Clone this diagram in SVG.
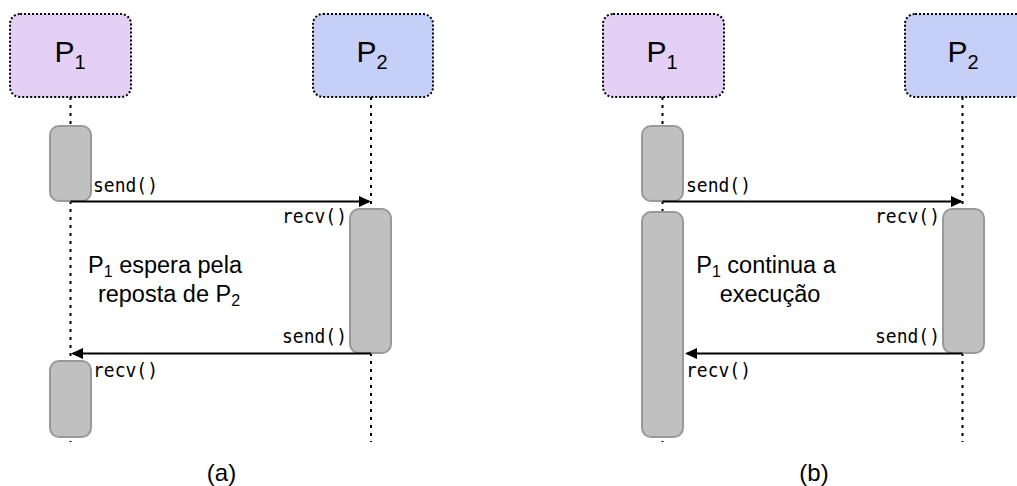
<svg xmlns="http://www.w3.org/2000/svg" width="1017" height="486" viewBox="0 0 1017 486">
  <style>
    .proc { stroke: #000; stroke-width: 2; stroke-dasharray: 2 2; }
    .p1 { fill: #e4d0f5; }
    .p2 { fill: #c6cff7; }
    .life { stroke: #000; stroke-width: 2; stroke-dasharray: 3 5; fill: none; }
    .act { fill: #c0c0c0; stroke: #999; stroke-width: 2; }
    .msg { stroke: #000; stroke-width: 2; fill: none; marker-end: url(#head); }
    .name { font-family: "Liberation Sans", Arial, sans-serif; font-size: 30px; fill: #000; text-anchor: middle; }
    .note { font-family: "Liberation Sans", Arial, sans-serif; font-size: 23.5px; fill: #000; text-anchor: middle; }
    .cap { font-family: "Liberation Sans", Arial, sans-serif; font-size: 24px; fill: #000; text-anchor: middle; }
    .call { font-family: "DejaVu Sans Mono", monospace; font-size: 20px; fill: #000; }
    .end { text-anchor: end; }
    .sub { font-size: 16px; }
    .subbig { font-size: 20px; }
  </style>
  <defs>
    <marker id="head" markerUnits="userSpaceOnUse" markerWidth="12" markerHeight="12" refX="10" refY="5.5" orient="auto">
      <path d="M0,0 L12,5.5 L0,11 Z" fill="#000"/>
    </marker>
  </defs>

  <!-- lifelines -->
  <g id="lifelines">
    <line class="life" x1="70.5" y1="97" x2="70.5" y2="442"/>
    <line class="life" x1="371" y1="97" x2="371" y2="442"/>
    <line class="life" x1="662.5" y1="97" x2="662.5" y2="442"/>
    <line class="life" x1="962.5" y1="97" x2="962.5" y2="442"/>
  </g>

  <!-- (a) blocking -->
  <g id="a-p1"><rect class="proc p1" x="10" y="14" width="121" height="83" rx="10"/>
    <text class="name" x="70" y="62">P<tspan class="subbig" dy="7">1</tspan></text></g>
  <g id="a-p2"><rect class="proc p2" x="313" y="14" width="120" height="83" rx="10"/>
    <text class="name" x="372" y="62">P<tspan class="subbig" dy="7">2</tspan></text></g>
  <g id="a-p1-act1"><rect class="act" x="50" y="126" width="41" height="75" rx="9"/></g>
  <g id="a-p2-act"><rect class="act" x="350" y="209" width="41" height="144" rx="9"/></g>
  <g id="a-p1-act2"><rect class="act" x="50" y="361" width="41" height="76" rx="9"/></g>

  <!-- (b) non-blocking -->
  <g id="b-p1"><rect class="proc p1" x="603" y="14" width="121" height="83" rx="10"/>
    <text class="name" x="662" y="62">P<tspan class="subbig" dy="7">1</tspan></text></g>
  <g id="b-p2"><rect class="proc p2" x="905" y="14" width="121" height="83" rx="10"/>
    <text class="name" x="963" y="62">P<tspan class="subbig" dy="7">2</tspan></text></g>
  <g id="b-p1-act1"><rect class="act" x="642" y="126" width="41" height="75" rx="9"/></g>
  <g id="b-p1-act2"><rect class="act" x="642" y="212" width="41" height="225" rx="9"/></g>
  <g id="b-p2-act"><rect class="act" x="943" y="209" width="41" height="144" rx="9"/></g>

  <!-- messages -->
  <g id="messages">
    <line class="msg" x1="70.5" y1="201.5" x2="369" y2="201.5"/>
    <line class="msg" x1="371" y1="353.5" x2="73" y2="353.5"/>
    <line class="msg" x1="662.5" y1="201.5" x2="961" y2="201.5"/>
    <line class="msg" x1="962.5" y1="353.5" x2="687" y2="353.5"/>
  </g>

  <!-- call labels (narrowed to the label width) -->
  <g id="calls">
    <text class="call" x="93" y="192" textLength="65" lengthAdjust="spacingAndGlyphs">send()</text>
    <text class="call" x="282" y="223" textLength="65" lengthAdjust="spacingAndGlyphs">recv()</text>
    <text class="call" x="282" y="343" textLength="65" lengthAdjust="spacingAndGlyphs">send()</text>
    <text class="call" x="93" y="377" textLength="65" lengthAdjust="spacingAndGlyphs">recv()</text>
    <text class="call" x="686" y="192" textLength="65" lengthAdjust="spacingAndGlyphs">send()</text>
    <text class="call" x="875" y="223" textLength="65" lengthAdjust="spacingAndGlyphs">recv()</text>
    <text class="call" x="875" y="343" textLength="65" lengthAdjust="spacingAndGlyphs">send()</text>
    <text class="call" x="686" y="377" textLength="65" lengthAdjust="spacingAndGlyphs">recv()</text>
  </g>

  <!-- notes -->
  <g id="a-note">
    <text class="note" x="165" y="273">P<tspan class="sub" dy="4">1</tspan><tspan dy="-4"> espera pela</tspan></text>
    <text class="note" x="169" y="302">reposta de P<tspan class="sub" dy="4">2</tspan></text>
  </g>
  <g id="b-note">
    <text class="note" x="766" y="273">P<tspan class="sub" dy="4">1</tspan><tspan dy="-4"> continua a</tspan></text>
    <text class="note" x="770" y="302">execução</text>
  </g>

  <!-- captions -->
  <g id="captions">
    <text class="cap" x="221.5" y="481">(a)</text>
    <text class="cap" x="814" y="481">(b)</text>
  </g>
</svg>
